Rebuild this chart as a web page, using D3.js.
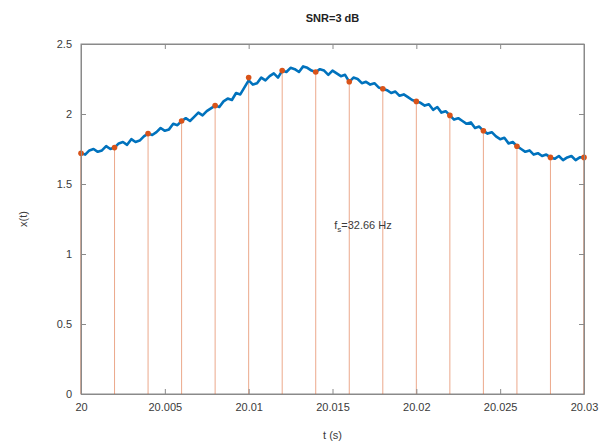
<!DOCTYPE html>
<html><head><meta charset="utf-8">
<script src="https://cdn.jsdelivr.net/npm/d3@7"></script>
<style>body{margin:0;background:#fff}svg text{font-family:"Liberation Sans",Arial,sans-serif}</style>
</head><body>
<svg id="c" width="606" height="446"></svg>
<script>
// noisy signal x(t), t = 20 + i*0.00025 s
const signalValues = [
1.72,1.71,1.74,1.75,1.73,1.74,1.77,1.75,
1.76,1.79,1.80,1.78,1.82,1.80,1.81,1.84,
1.86,1.85,1.87,1.90,1.88,1.89,1.93,1.92,
1.95,1.97,1.95,1.98,2.01,1.99,2.02,2.04,
2.06,2.05,2.09,2.11,2.10,2.15,2.14,2.19,
2.24,2.21,2.22,2.26,2.24,2.27,2.29,2.26,
2.31,2.30,2.33,2.32,2.30,2.34,2.33,2.31,
2.30,2.32,2.31,2.28,2.31,2.29,2.27,2.28,
2.23,2.26,2.25,2.22,2.23,2.21,2.22,2.19,
2.18,2.17,2.15,2.16,2.13,2.14,2.12,2.10,
2.09,2.08,2.06,2.07,2.03,2.05,2.01,2.02,
1.99,1.96,1.97,1.95,1.93,1.94,1.90,1.91,
1.88,1.86,1.87,1.84,1.82,1.83,1.79,1.80,
1.77,1.75,1.73,1.74,1.71,1.72,1.70,1.71,
1.69,1.68,1.70,1.67,1.69,1.70,1.67,1.69,
1.69];
const signalStep = 0.00025;
const signalStart = 20;
// samples (stems)
const sampleTimes = [20,20.002,20.004,20.006,20.008,20.010,20.012,20.014,20.016,20.018,20.020,20.022,20.024,20.026,20.028,20.030];
const sampleValues = [1.72,1.76,1.86,1.95,2.06,2.26,2.31,2.30,2.23,2.18,2.09,1.99,1.88,1.77,1.69,1.69];
const xTicks = [20,20.005,20.01,20.015,20.02,20.025,20.03];
const xTickLabels = ["20","20.005","20.01","20.015","20.02","20.025","20.03"];
const yTicks = [0,0.5,1,1.5,2,2.5];
const yTickLabels = ["0","0.5","1","1.5","2","2.5"];
const titleText = "SNR=3 dB";
const xLabel = "t (s)";
const yLabel = "x(t)";

const svg = d3.select("#c");
const L=81, R=584, T=44, B=394;
const x = d3.scaleLinear().domain([20,20.03]).range([L,R]);
const y = d3.scaleLinear().domain([0,2.5]).range([B,T]);
const axisCol="#8a8a8a", textCol="#3a3a3a";

// box
svg.append("rect").attr("x",L).attr("y",T).attr("width",R-L).attr("height",B-T)
  .attr("fill","#fff").attr("stroke",axisCol).attr("stroke-width",1);

// stems
const stemCol="#D95319";
svg.append("g").selectAll("line").data(sampleTimes).join("line")
  .attr("x1",d=>x(d)).attr("x2",d=>x(d))
  .attr("y1",y(0)).attr("y2",(d,i)=>y(sampleValues[i]))
  .attr("stroke",stemCol).attr("stroke-opacity",0.5).attr("stroke-width",1);

// signal line
const line = d3.line().x((d,i)=>x(signalStart+i*signalStep)).y(d=>y(d));
svg.append("path").datum(signalValues).attr("d",line)
  .attr("fill","none").attr("stroke","#0072BD").attr("stroke-width",2.6).attr("stroke-linejoin","round");

// markers
svg.append("g").selectAll("circle").data(sampleTimes).join("circle")
  .attr("cx",d=>x(d)).attr("cy",(d,i)=>y(sampleValues[i])).attr("r",2.8)
  .attr("fill",stemCol);

// axes
const xa = d3.axisBottom(x).tickValues(xTicks).tickFormat((d,i)=>xTickLabels[i]).tickSizeInner(-5).tickSizeOuter(0).tickPadding(9);
const gx = svg.append("g").attr("transform",`translate(0,${B})`).call(xa);
const xt = d3.axisTop(x).tickValues(xTicks).tickFormat("").tickSizeInner(-5).tickSizeOuter(0);
const gxt = svg.append("g").attr("transform",`translate(0,${T})`).call(xt);
const ya = d3.axisLeft(y).tickValues(yTicks).tickFormat((d,i)=>yTickLabels[i]).tickSizeInner(-5).tickSizeOuter(0).tickPadding(9);
const gy = svg.append("g").attr("transform",`translate(${L},0)`).call(ya);
const yr = d3.axisRight(y).tickValues(yTicks).tickFormat("").tickSizeInner(-5).tickSizeOuter(0);
const gyr = svg.append("g").attr("transform",`translate(${R},0)`).call(yr);
[gx,gxt,gy,gyr].forEach(g=>{
  g.select(".domain").attr("stroke",axisCol);
  g.selectAll(".tick line").attr("stroke",axisCol);
  g.selectAll("text").attr("fill",textCol).attr("font-size",11).attr("font-family","Liberation Sans, Arial, sans-serif");
});

// labels
svg.append("text").attr("x",(L+R)/2).attr("y",22).attr("text-anchor","middle")
  .attr("font-size",11).attr("font-weight","bold").attr("fill","#222").text(titleText);
svg.append("text").attr("x",(L+R)/2).attr("y",439).attr("text-anchor","middle")
  .attr("font-size",11).attr("fill",textCol).text(xLabel);
svg.append("text").attr("transform",`translate(27,${(T+B)/2}) rotate(-90)`).attr("text-anchor","middle")
  .attr("font-size",11).attr("fill",textCol).text(yLabel);

// annotation
const ann = svg.append("text").attr("x",x(20.0151)).attr("y",229).attr("font-size",11).attr("fill",textCol);
ann.append("tspan").text("f");
ann.append("tspan").attr("font-size",8).attr("dy",3).text("s");
ann.append("tspan").attr("dy",-3).text("=32.66 Hz");
</script>
</body></html>
